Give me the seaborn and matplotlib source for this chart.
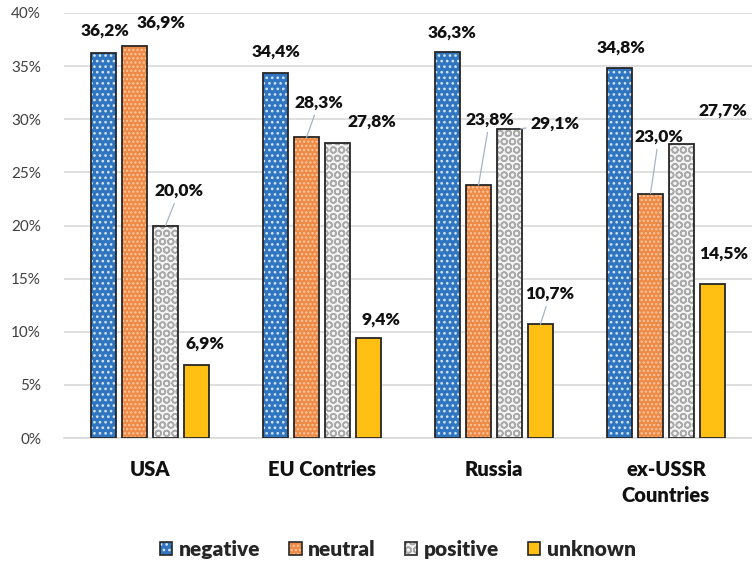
import matplotlib
matplotlib.use("Agg")
import matplotlib.pyplot as plt
from matplotlib.patches import Rectangle, Patch
from matplotlib.legend_handler import HandlerTuple
import seaborn as sns
import pandas as pd

# Share of mentions by tone, per region (%)
regions = ["USA", "EU Contries", "Russia", "ex-USSR\nCountries"]
sentiments = ["negative", "neutral", "positive", "unknown"]
negative = [36.2, 34.4, 36.3, 34.8]
neutral = [36.9, 28.3, 23.8, 23.0]
positive = [20.0, 27.8, 29.1, 27.7]
unknown = [6.9, 9.4, 10.7, 14.5]
y_ticks = [0, 5, 10, 15, 20, 25, 30, 35, 40]

series = {"negative": negative, "neutral": neutral,
          "positive": positive, "unknown": unknown}
df = pd.DataFrame([
    {"region": r, "sentiment": s, "value": series[s][i]}
    for s in sentiments for i, r in enumerate(regions)
])

sns.set_theme(style="white")
plt.rcParams["font.family"] = ["Lato", "DejaVu Sans"]
plt.rcParams["hatch.linewidth"] = 1.1

# fill, hatch colour, hatch pattern for each tone
styles = {
    "negative": ("#2F75C0", "#D6E6F7", "..."),
    "neutral": ("#EE8A45", "#F9C9A3", "...."),
    "positive": ("#F4F4F4", "#A9A9A9", "OO"),
    "unknown": ("#FFC013", "#FFC013", ""),
}
outline = "#262626"
text_col = "#111111"

fig = plt.figure(figsize=(7.52, 5.69), dpi=100)
ax = fig.add_axes([64 / 752, 131 / 569, 688 / 752, 425 / 569])

sns.barplot(data=df, x="region", y="value", hue="sentiment",
            order=regions, hue_order=sentiments,
            width=0.72, gap=0.22, legend=False, ax=ax, zorder=3)

for cont, s in zip(ax.containers, sentiments):
    face, hcol, hatch = styles[s]
    for bar in cont:
        bar.set_facecolor(face)
        bar.set_edgecolor(hcol)
        bar.set_hatch(hatch)
        bar.set_linewidth(0)
        ax.add_patch(Rectangle(bar.get_xy(), bar.get_width(), bar.get_height(),
                               fill=False, edgecolor=outline, linewidth=1.3,
                               zorder=4))

# label placement: (dx, dy) in points from bar top, leader line, anchor shift
placement = {
    ("USA", "negative"): (1, 16, False, 0),
    ("USA", "neutral"): (19, 17, False, 0),
    ("USA", "positive"): (10, 25, True, 0),
    ("USA", "unknown"): (6, 15, False, 0),
    ("EU Contries", "negative"): (0, 15, False, 0),
    ("EU Contries", "neutral"): (9, 25, True, 0),
    ("EU Contries", "positive"): (25, 15, False, 0),
    ("EU Contries", "unknown"): (9, 13, False, 0),
    ("Russia", "negative"): (3, 14, False, 0),
    ("Russia", "neutral"): (8, 47, True, 0),
    ("Russia", "positive"): (25, 4, True, 0.065),
    ("Russia", "unknown"): (7, 22, True, 0),
    ("ex-USSR\nCountries", "negative"): (1, 15, False, 0),
    ("ex-USSR\nCountries", "neutral"): (6, 41, True, 0),
    ("ex-USSR\nCountries", "positive"): (30, 24, False, 0),
    ("ex-USSR\nCountries", "unknown"): (8, 22, False, 0),
}

for cont, s in zip(ax.containers, sentiments):
    for bar, r, v in zip(cont, regions, series[s]):
        dx, dy, leader, shift = placement[(r, s)]
        x = bar.get_x() + bar.get_width() / 2 + shift
        text = f"{v:.1f}".replace(".", ",") + "%"
        arrow = dict(arrowstyle="-", color="#A6B4C4", lw=0.9,
                     shrinkA=1, shrinkB=0) if leader else None
        ax.annotate(text, xy=(x, v), xytext=(dx, dy),
                    textcoords="offset points", ha="center", va="center",
                    fontsize=12.5, fontweight="heavy", color=text_col,
                    arrowprops=arrow, zorder=5, annotation_clip=False)

ax.set_ylim(0, 40)
ax.set_xlim(-0.5, 3.5)
ax.set_yticks(y_ticks)
ax.set_yticklabels([f"{t}%" for t in y_ticks])
ax.yaxis.grid(True, color="#D9D9D9", linewidth=1.2, zorder=0)
ax.set_axisbelow(True)
for side in ["top", "right", "left"]:
    ax.spines[side].set_visible(False)
ax.spines["bottom"].set_color("#D9D9D9")
ax.spines["bottom"].set_linewidth(1.2)
ax.tick_params(axis="y", length=0, pad=16.5, labelsize=11, labelcolor="#404040")
ax.tick_params(axis="x", length=0, pad=16)
ax.set_xticks(range(len(regions)))
ax.set_xticklabels(regions, fontsize=14.5, fontweight="heavy", color=text_col,
                   linespacing=1.45, va="top")
ax.set_xlabel("")
ax.set_ylabel("")

handles = []
for s in sentiments:
    face, hcol, hatch = styles[s]
    handles.append((Patch(facecolor=face, edgecolor=hcol, hatch=hatch, linewidth=0),
                    Patch(fill=False, edgecolor=outline, linewidth=1.2)))
fig.legend(handles, sentiments, handler_map={tuple: HandlerTuple(ndivide=1)},
           loc="center", bbox_to_anchor=(0.529, 0.034), ncol=4, frameon=False,
           handlelength=0.6, handleheight=0.6, handletextpad=0.3,
           columnspacing=1.4,
           prop={"family": ["Lato", "DejaVu Sans"], "weight": "heavy", "size": 15})

fig.savefig("out.png", dpi=100)
